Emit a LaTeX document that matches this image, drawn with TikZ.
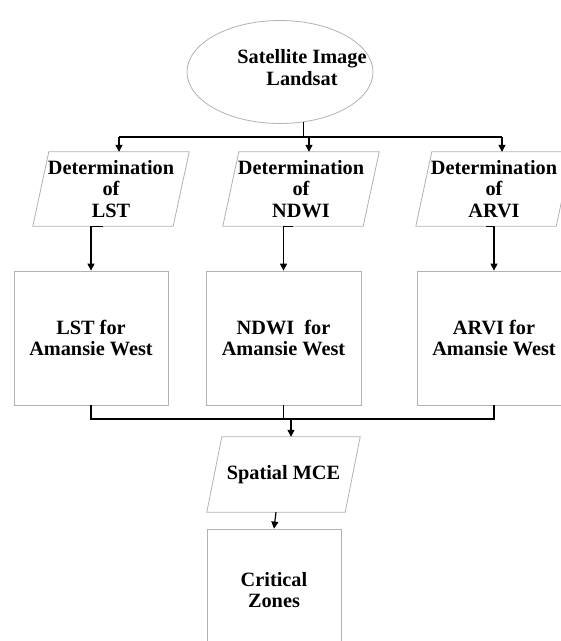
\documentclass[tikz,border=0pt]{standalone}
\usepackage{fontspec}
\setmainfont{Liberation Serif}
\usetikzlibrary{shapes.geometric,arrows.meta,calc}
\tikzset{
  boxline/.style={draw=black!30, line width=0.8pt},
  txt/.style={font=\bfseries\fontsize{20.3pt}{21.3pt}\selectfont, align=center, inner sep=0pt},
  boxnode/.style={boxline, txt, rectangle, minimum width=154pt, minimum height=134pt},
  paranode/.style={txt, minimum width=140pt, minimum height=74pt},
  conn/.style={draw=black, line width=1.2pt},
  arr/.style={conn, -{Triangle[length=7pt,width=7pt]}},
}
\begin{document}
\begin{tikzpicture}[x=1pt,y=-1pt]
\useasboundingbox (0,0) rectangle (561,641);
\fill[white] (0,0) rectangle (561,641);
\clip (0,0) rectangle (561,641);

% top ellipse
\node[boxline, ellipse, minimum width=186pt, minimum height=103pt, inner sep=0pt] (sat) at (280,72) {};
\node[txt] (sattxt) at (302,67.5) {Satellite Image\\Landsat};

% parallelograms
\node[paranode] (p1) at (111,189) {Determination\\of\\LST};
\node[paranode] (p2) at (301,189) {Determination\\of\\NDWI};
\node[paranode] (p3) at (494,189) {Determination\\of\\ARVI};
\node[paranode, minimum width=138pt, minimum height=75pt] (mce) at (283.5,474.5) {Spatial MCE};
\foreach \n/\s in {p1/8,p2/8,p3/8,mce/7.5}{
  \draw[boxline] ($(\n.north west)+(\s,0)$) -- ($(\n.north east)+(\s,0)$)
     -- ($(\n.south east)+(-\s,0)$) -- ($(\n.south west)+(-\s,0)$) -- cycle;
}

% boxes
\node[boxnode] (b1) at (91,338) {LST for\\Amansie West};
\node[boxnode, minimum width=155pt] (b2) at (283.5,338) {NDWI\ \ for\\Amansie West};
\node[boxnode] (b3) at (494,338) {ARVI for\\Amansie West};
\node[boxnode, minimum width=134pt, minimum height=122pt] (cz) at (274,590) {Critical\\Zones};

% connector points
\coordinate (satb) at (sat.-65.5);
\coordinate (p1t) at ($(p1.north)+(8,0)$);
\coordinate (p2t) at ($(p2.north)+(8,0)$);
\coordinate (p3t) at ($(p3.north)+(8,0)$);
\coordinate (p1b) at ($(p1.south)+(-8,0)$);
\coordinate (p2b) at ($(p2.south)+(-8,0)$);
\coordinate (p3b) at ($(p3.south)+(-8,0)$);
\coordinate (mcet) at ($(mce.north)+(7.5,0)$);
\coordinate (mceb) at ($(mce.south)+(-7.5,0)$);
\coordinate (bus) at (0,137);
\coordinate (bustwo) at (0,419);

% top distribution
\draw[conn] (satb) -- (satb |- bus);
\draw[conn] (p1t |- bus) -- (p3t |- bus);
\foreach \p in {p1t,p2t,p3t}{
  \draw[arr] (\p |- bus) -- (\p);
}

% parallelograms to boxes
\draw[arr] (p1b) -| (b1.north);
\draw[arr] (p2b) -| (b2.north);
\draw[arr] (p3b) -| (b3.north);

% boxes to spatial MCE
\draw[conn] (b1.south) -- (b1.south |- bustwo) -- (b3.south |- bustwo) -- (b3.south);
\draw[conn] (b2.south) -- (b2.south |- bustwo);
\draw[arr] (mcet |- bustwo) -- (mcet);

% MCE to critical zones
\draw[arr] (mceb) -- (cz.north);
\end{tikzpicture}
\end{document}
